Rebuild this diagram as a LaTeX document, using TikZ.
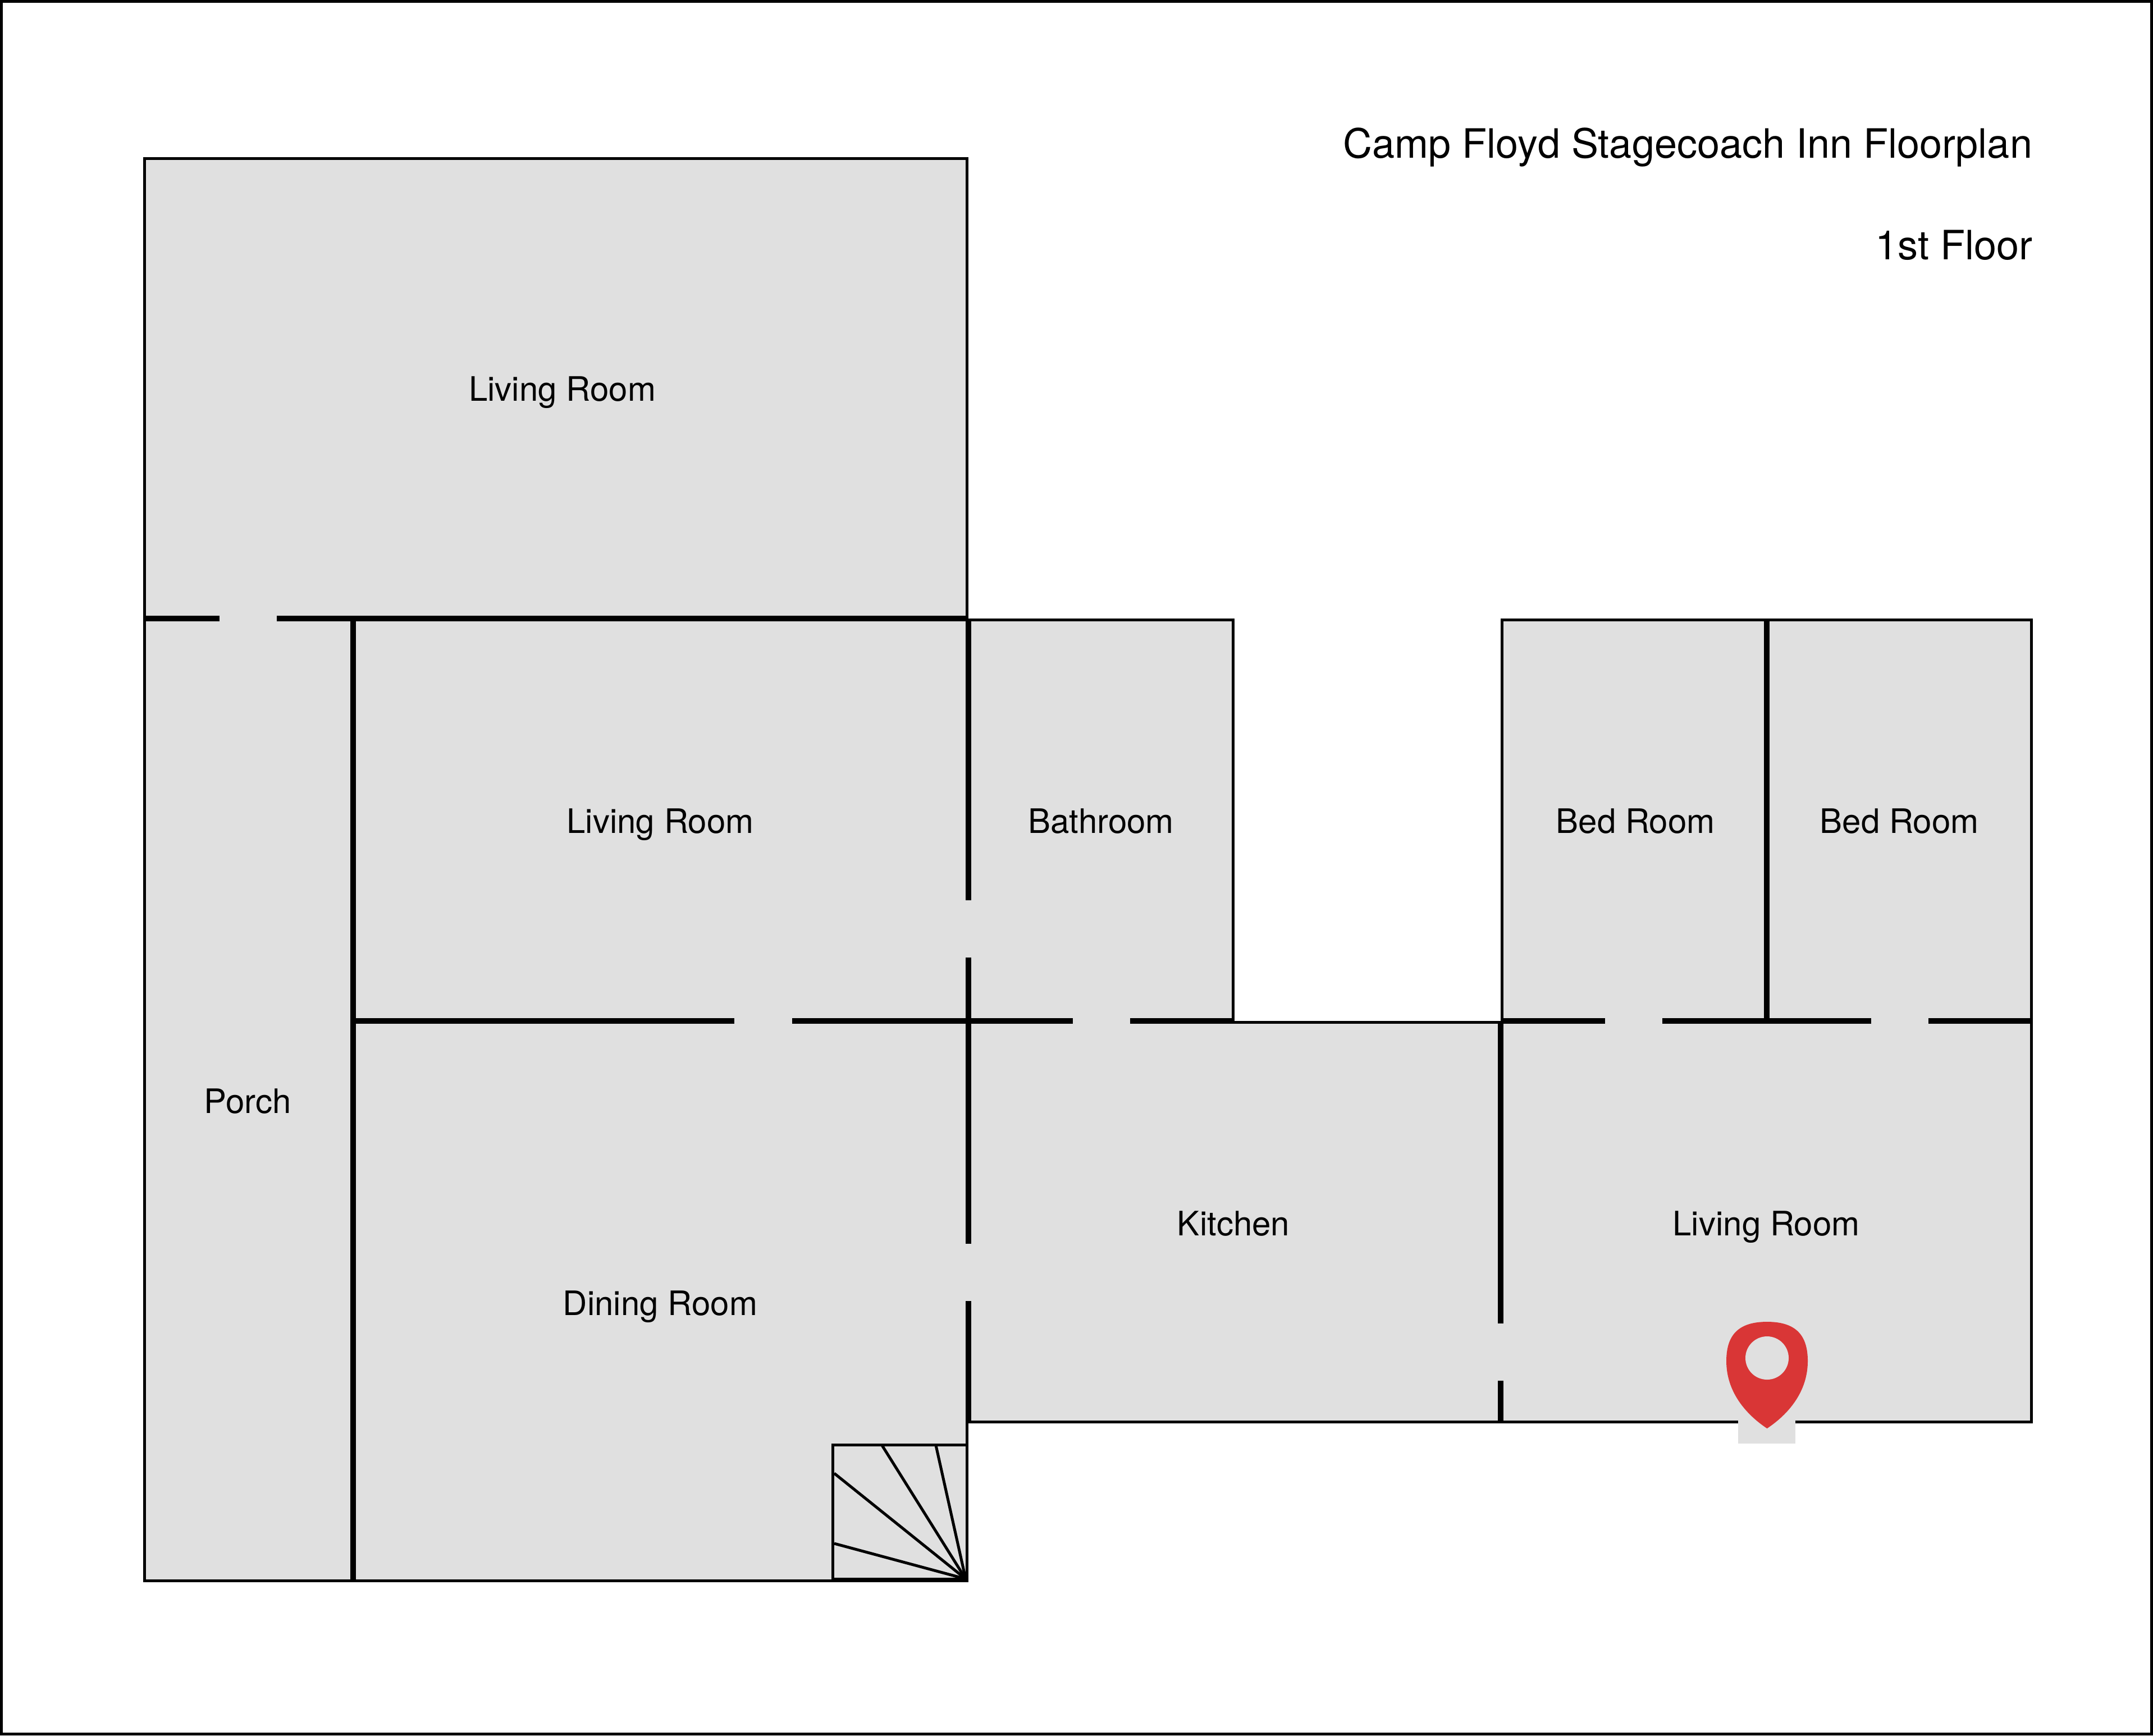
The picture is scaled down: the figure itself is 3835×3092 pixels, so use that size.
\documentclass[tikz,border=0pt]{standalone}
\usepackage{fontspec}
\setmainfont{TeX Gyre Heros}
\definecolor{roomgrey}{HTML}{E0E0E0}
\definecolor{pinred}{HTML}{D93636}
\tikzset{
  thinwall/.style={draw=black,line width=1pt,line join=miter},
  thickwall/.style={draw=black,line width=2pt},
  stairline/.style={draw=black,line width=1pt},
  roomlabel/.style={anchor=base,inner sep=0pt,font=\fontsize{12}{14}\selectfont,text=black},
  titlelabel/.style={anchor=base east,inner sep=0pt,font=\fontsize{14.4}{17}\selectfont,text=black}
}
\begin{document}
\begin{tikzpicture}[x=0.2pt,y=-0.2pt]
\useasboundingbox (0,0) rectangle (3835,3092);
% page frame
\draw[thinwall,fill=white] (2.5,2.5) rectangle (3832.5,3089.5);
% floor outline
\draw[thinwall,fill=roomgrey] (257.5,282.5) -- (1722.5,282.5) -- (1722.5,1104.5) -- (2196.5,1104.5)
  -- (2196.5,1821.5) -- (2675.5,1821.5) -- (2675.5,1104.5) -- (3618.5,1104.5) -- (3618.5,2533.5)
  -- (1722.5,2533.5) -- (1722.5,2816.5) -- (257.5,2816.5) -- cycle;
% north wall with door
\draw[thickwall] (255,1102) -- (391,1102);
\draw[thickwall] (493,1102) -- (1722.5,1102);
% porch wall
\draw[thickwall] (629,1102) -- (629,2816.5);
% central wall with doors
\draw[thickwall] (629,1819) -- (1308,1819);
\draw[thickwall] (1411,1819) -- (1911,1819);
\draw[thickwall] (2013,1819) -- (2199,1819);
% bathroom / dining wall
\draw[thickwall] (1725,1104.5) -- (1725,1604);
\draw[thickwall] (1725,1706) -- (1725,2216);
\draw[thickwall] (1725,2318) -- (1725,2531);
% east wing
\draw[thickwall] (2673,1819) -- (2859,1819);
\draw[thickwall] (2961,1819) -- (3333,1819);
\draw[thickwall] (3435,1819) -- (3621,1819);
\draw[thickwall] (3147,1104.5) -- (3147,1819);
\draw[thickwall] (2673,1819) -- (2673,2358);
\draw[thickwall] (2673,2460) -- (2673,2533.5);
% stairs
\draw[stairline] (1483.5,2574.5) rectangle (1722.5,2813.5);
\draw[stairline] (1720,2813) -- (1486,2750);
\draw[stairline] (1720,2813) -- (1486,2625);
\draw[stairline] (1720,2813) -- (1571,2575);
\draw[stairline] (1720,2813) -- (1667,2575);
% location pin
\fill[roomgrey] (3096,2530) rectangle (3198,2572);
\fill[pinred] (3147.5,2355) .. controls (3095,2355) and (3075,2380) .. (3075,2425)
  .. controls (3075,2480) and (3110,2520) .. (3147.5,2545)
  .. controls (3185,2520) and (3220,2480) .. (3220,2425)
  .. controls (3220,2380) and (3200,2355) .. (3147.5,2355) -- cycle;
\fill[roomgrey] (3147.5,2419.5) circle[radius=38.5];
% labels
\node[roomlabel] (living1) at (1001.5,714) {Living Room};
\node[roomlabel] (living2) at (1176,1484) {Living Room};
\node[roomlabel] (bath) at (1961,1484) {Bathroom};
\node[roomlabel] (bed1) at (2913,1484) {Bed Room};
\node[roomlabel] (bed2) at (3383,1484) {Bed Room};
\node[roomlabel] (porch) at (441,1983) {Porch};
\node[roomlabel] (dining) at (1176,2343) {Dining Room};
\node[roomlabel] (kitchen) at (2197,2201) {Kitchen};
\node[roomlabel] (living3) at (3146,2201) {Living Room};
\node[titlelabel] (title) at (3621,281) {Camp Floyd Stagecoach Inn Floorplan};
\node[titlelabel] (floor) at (3621,462) {1st Floor};
\end{tikzpicture}
\end{document}
